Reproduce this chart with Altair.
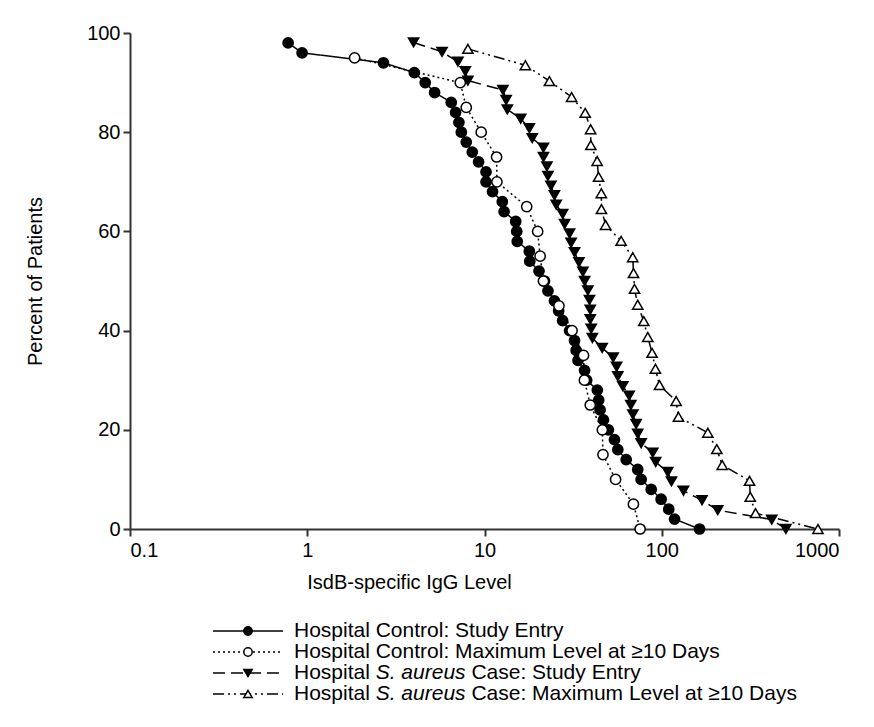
import altair as alt
import pandas as pd

FONT = "Liberation Sans"

# ---------------- data ----------------
series_names = [
    "Hospital Control: Study Entry",
    "Hospital Control: Maximum Level at ≥10 Days",
    "Hospital S. aureus Case: Study Entry",
    "Hospital S. aureus Case: Maximum Level at ≥10 Days",
]

hc_entry_x = [0.78, 0.935, 2.69, 4.02, 4.63, 5.23, 6.49, 6.87, 7.17, 7.40,
              7.89, 8.53, 9.26, 10.2, 10.2, 11.1, 12.6, 12.9, 15.0, 15.2,
              15.3, 17.9, 18.0, 20.3, 21.8, 22.8, 24.8, 26.2, 27.6, 30.2,
              32.2, 32.9, 33.7, 36.7, 37.7, 43.3, 44.1, 44.9, 46.9, 50.0,
              54.1, 56.5, 63.0, 73.2, 76.5, 87.2, 99.2, 109.5, 118.1, 163.4]
hc_entry_y = [98, 96, 94, 92, 90, 88, 86, 84, 82, 80,
              78, 76, 74, 72, 70, 68, 66, 64, 62, 60,
              58, 56, 54, 52, 50, 48, 46, 44, 42, 40,
              38, 36, 34, 32, 30, 28, 26, 24, 22, 20,
              18, 16, 14, 12, 10, 8, 6, 4, 2, 0]

hc_max_x = [1.85, 7.30, 7.89, 9.58, 11.7, 11.75, 17.3, 19.95, 20.6, 21.5,
            26.3, 31.2, 36.2, 36.6, 39.5, 46.2, 46.6, 54.9, 69.2, 75.5]
hc_max_y = [95, 90, 85, 80, 75, 70, 65, 60, 55, 50,
            45, 40, 35, 30, 25, 20, 15, 10, 5, 0]

sa_entry_x = [3.98, 5.76, 7.08, 7.79, 8.06, 12.7, 13.25, 13.45, 16.0, 17.9,
              18.6, 21.5, 21.5, 22.5, 22.8, 23.7, 24.8, 25.4, 27.6, 28.3,
              30.2, 30.8, 32.2, 34.1, 35.9, 36.7, 38.3, 39.1, 39.5, 39.5,
              40.0, 40.6, 46.1, 53.2, 55.6, 56.5, 60.3, 65.5, 66.9, 68.7,
              71.7, 73.2, 76.5, 89.0, 92.4, 108.1, 113.5, 132.6, 168.7, 207.0,
              417.5, 501.4]
sa_entry_y = [98.1, 96.2, 94.2, 92.3, 90.4, 88.5, 86.5, 84.6, 82.7, 80.8,
              78.8, 76.9, 75.0, 73.1, 71.2, 69.2, 67.3, 65.4, 63.5, 61.5,
              59.6, 57.7, 55.8, 53.8, 51.9, 50.0, 48.1, 46.2, 44.2, 42.3,
              40.4, 38.5, 36.5, 34.6, 32.7, 30.8, 28.8, 26.9, 25.0, 23.1,
              21.2, 19.2, 17.3, 15.4, 13.5, 11.5, 9.6, 7.7, 5.8, 3.8,
              1.9, 0.0]

sa_max_x = [8.06, 17.0, 23.25, 31.0, 37.0, 39.7, 39.8, 43.2, 44.0, 45.6,
            45.7, 48.2, 59.0, 68.6, 69.3, 70.2, 73.2, 79.2, 83.4, 88.2,
            92.1, 97.1, 120.5, 124.2, 181.9, 204.5, 219.3, 312.9, 315.7, 338.2,
            760.7]
sa_max_y = [96.8, 93.5, 90.3, 87.1, 83.9, 80.6, 77.4, 74.2, 71.0, 67.7,
            64.5, 61.3, 58.1, 54.8, 51.6, 48.4, 45.2, 41.9, 38.7, 35.5,
            32.3, 29.0, 25.8, 22.6, 19.4, 16.1, 12.9, 9.7, 6.5, 3.2,
            0.0]

x_ticks = [0.1, 1, 10, 100, 1000]
y_ticks = [0, 20, 40, 60, 80, 100]

# ---------------- styles ----------------
dashes = [[1, 0], [2, 3], [12, 6], [11, 4, 2, 4, 2, 4]]
shapes = ["circle", "circle", "triangle-down", "triangle-up"]
fills = ["black", "white", "black", "white"]

rows = []
for name, xs, ys in zip(series_names,
                        [hc_entry_x, hc_max_x, sa_entry_x, sa_max_x],
                        [hc_entry_y, hc_max_y, sa_entry_y, sa_max_y]):
    for i, (xv, yv) in enumerate(zip(xs, ys)):
        rows.append({"series": name, "level": xv, "pct": yv, "idx": i})
df = pd.DataFrame(rows)

dash_scale = alt.Scale(domain=series_names, range=dashes)
shape_scale = alt.Scale(domain=series_names, range=shapes)
fill_scale = alt.Scale(domain=series_names, range=fills)

x_enc = alt.X(
    "level:Q",
    scale=alt.Scale(type="log", domain=[0.1, 1000]),
    axis=alt.Axis(values=x_ticks, format="~g", title="IsdB-specific IgG Level",
                  labelPadding=4, titleX=279, titleY=53, titleBaseline="middle",
                  titleAlign="center"),
)
y_enc = alt.Y(
    "pct:Q",
    scale=alt.Scale(domain=[0, 100]),
    axis=alt.Axis(values=y_ticks, title="Percent of Patients", labelPadding=3,
                  titleX=-95, titleY=248, titleAngle=270, titleBaseline="middle",
                  titleAlign="center"),
)

lines = alt.Chart(df).mark_line(color="black", strokeWidth=1.5).encode(
    x=x_enc, y=y_enc, order="idx:Q",
    strokeDash=alt.StrokeDash("series:N", scale=dash_scale, legend=None),
)
points = alt.Chart(df).mark_point(filled=True, stroke="black", strokeWidth=1.5,
                                  opacity=1, size=105).encode(
    x=x_enc, y=y_enc,
    shape=alt.Shape("series:N", scale=shape_scale, legend=None),
    fill=alt.Fill("series:N", scale=fill_scale, legend=None),
)

# ---------------- custom legend (line + marker + mixed-style text) ----------------
W = {"H": 722, "o": 556, "s": 500, "p": 556, "i": 222, "t": 278, "a": 556,
     "l": 222, " ": 278, "S": 667, ".": 278, "u": 556, "r": 333, "e": 556}


def text_w(s, size):
    return sum(W[c] for c in s) * size / 1000.0


LEG_FS = 21
leg_x0, leg_x1, leg_mark = 83, 153, 118
leg_tx = 164
leg_y0, leg_dy = 598, 21

legend_layers = []
for r, name in enumerate(series_names):
    ry = leg_y0 + r * leg_dy
    ldf = pd.DataFrame({"series": [name]})
    legend_layers.append(
        alt.Chart(ldf).mark_rule(color="black", strokeWidth=1.5).encode(
            x=alt.value(leg_x0), x2=alt.value(leg_x1), y=alt.value(ry),
            strokeDash=alt.StrokeDash("series:N", scale=dash_scale, legend=None),
        )
    )
    legend_layers.append(
        alt.Chart(ldf).mark_point(filled=True, stroke="black", strokeWidth=1.5,
                                  opacity=1, size=70).encode(
            x=alt.value(leg_mark), y=alt.value(ry),
            shape=alt.Shape("series:N", scale=shape_scale, legend=None),
            fill=alt.Fill("series:N", scale=fill_scale, legend=None),
        )
    )
    if "S. aureus" in name:
        prefix = "Hospital "
        ital = "S. aureus"
        suffix = name.split("S. aureus ")[1]
        parts = [
            (prefix.strip(), leg_tx, "normal"),
            (ital, leg_tx + text_w(prefix, LEG_FS), "italic"),
            (suffix, leg_tx + text_w(prefix + ital + " ", LEG_FS), "normal"),
        ]
    else:
        parts = [(name, leg_tx, "normal")]
    for txt, tx, style in parts:
        legend_layers.append(
            alt.Chart(ldf).mark_text(align="left", baseline="middle", font=FONT,
                                     fontSize=LEG_FS, fontStyle=style,
                                     color="black").encode(
                x=alt.value(tx), y=alt.value(ry), text=alt.value(txt),
            )
        )

chart = alt.layer(lines, points, *legend_layers).properties(
    width=709, height=496,
    autosize=alt.AutoSizeParams(type="none"),
    padding={"left": 122, "top": 25, "right": 20, "bottom": 180},
    background="white",
).configure_view(strokeWidth=0).configure_axis(
    grid=False, domainColor="#333", domainWidth=2, tickColor="#333",
    tickWidth=2, tickSize=7, labelFont=FONT, labelFontSize=20,
    labelColor="black", titleFont=FONT, titleFontSize=20,
    titleFontWeight="normal", titleColor="black",
)

chart.save("out.html", embed_options={"renderer": "svg", "actions": False})
